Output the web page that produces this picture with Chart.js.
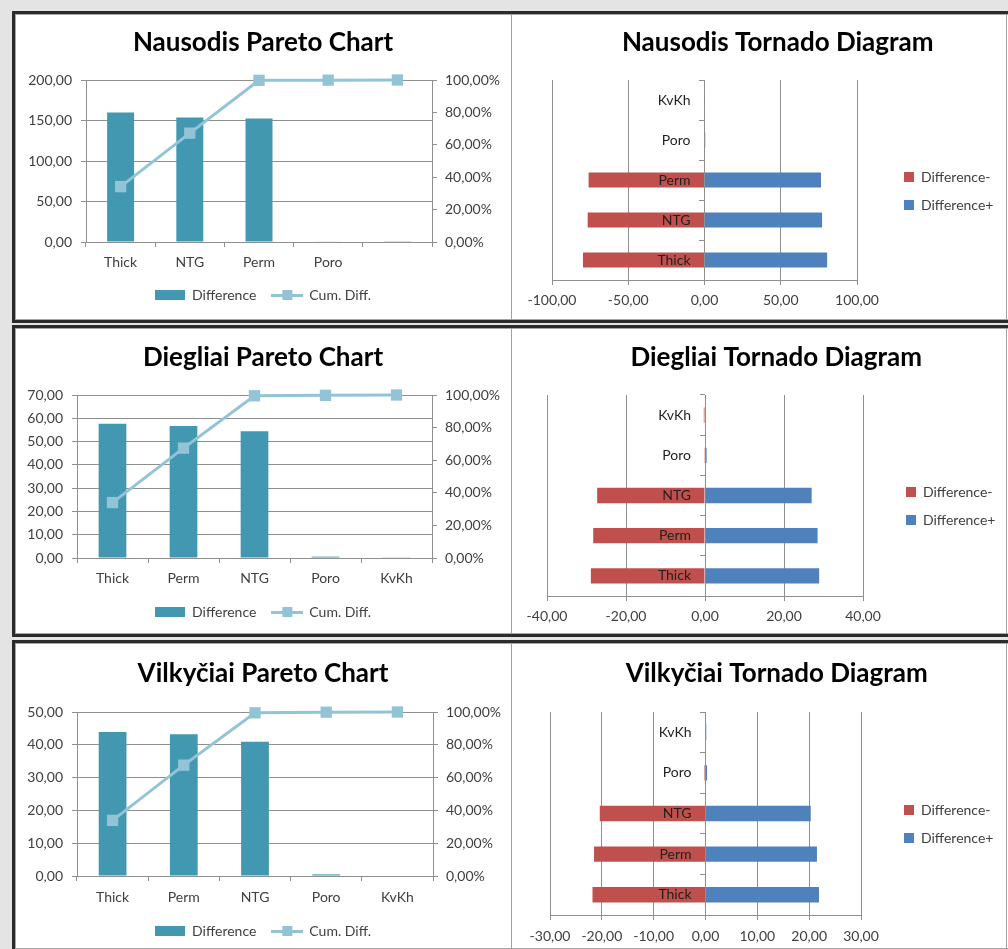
<!DOCTYPE html>
<html lang="lt">
<head>
<meta charset="utf-8">
<title>Pareto / Tornado</title>
<script src="https://cdn.jsdelivr.net/npm/chart.js@4.4.1/dist/chart.umd.min.js"></script>
<style>
  html, body { margin: 0; padding: 0; }
  body { width: 1008px; height: 949px; overflow: hidden; background: #e4e4e4; position: relative; }
  .row {
    position: absolute; left: 12px; width: 1000px; height: 306px;
    border: 3px solid #2b2b2b; background: #fff;
    box-shadow: inset 0 0 0 1px #a6a6a6; display: flex;
  }
  .cell { height: 306px; border-right: 1px solid #a0a0a0; }
  .cell canvas { display: block; }
</style>
</head>
<body>
<div class="row" style="top: 11px">
  <div class="cell"><canvas id="nausodisPareto" width="496" height="306"></canvas></div>
  <div class="cell"><canvas id="nausodisTornado" width="494" height="306"></canvas></div>
</div>
<div class="row" style="top: 325px">
  <div class="cell"><canvas id="diegliaiPareto" width="496" height="306"></canvas></div>
  <div class="cell"><canvas id="diegliaiTornado" width="494" height="306"></canvas></div>
</div>
<div class="row" style="top: 640px">
  <div class="cell"><canvas id="vilkyciaiPareto" width="496" height="306"></canvas></div>
  <div class="cell"><canvas id="vilkyciaiTornado" width="494" height="306"></canvas></div>
</div>
<script>
// Nausodis
const nausodisParetoCats = ['Thick', 'NTG', 'Perm', 'Poro', ''];
const nausodisDifference = [159.8, 153.8, 152.6, 0.5, 0.3];
const nausodisCumDiff = [34.2, 67.2, 99.8, 99.9, 100.0];
const nausodisDiffTicks = [0, 50, 100, 150, 200];
const nausodisTornadoCats = ['Thick', 'NTG', 'Perm', 'Poro', 'KvKh'];
const nausodisDiffMinus = [-79.7, -76.6, -76.0, 0, 0];
const nausodisDiffPlus = [80.4, 77.1, 76.4, 0.5, 0.3];
const nausodisTornadoTicks = [-100, -50, 0, 50, 100];

// Diegliai
const diegliaiParetoCats = ['Thick', 'Perm', 'NTG', 'Poro', 'KvKh'];
const diegliaiDifference = [57.6, 56.7, 54.4, 0.6, 0.3];
const diegliaiCumDiff = [34.0, 67.4, 99.5, 99.8, 100.0];
const diegliaiDiffTicks = [0, 10, 20, 30, 40, 50, 60, 70];
const diegliaiTornadoCats = ['Thick', 'Perm', 'NTG', 'Poro', 'KvKh'];
const diegliaiDiffMinus = [-28.9, -28.3, -27.3, -0.2, -0.3];
const diegliaiDiffPlus = [28.9, 28.5, 27.0, 0.4, 0];
const diegliaiTornadoTicks = [-40, -20, 0, 20, 40];

// Vilkyčiai
const vilkyciaiParetoCats = ['Thick', 'Perm', 'NTG', 'Poro', 'KvKh'];
const vilkyciaiDifference = [43.9, 43.2, 40.9, 0.5, 0.15];
const vilkyciaiCumDiff = [33.9, 67.6, 99.5, 99.9, 100.0];
const vilkyciaiDiffTicks = [0, 10, 20, 30, 40, 50];
const vilkyciaiTornadoCats = ['Thick', 'Perm', 'NTG', 'Poro', 'KvKh'];
const vilkyciaiDiffMinus = [-21.8, -21.5, -20.4, -0.2, 0];
const vilkyciaiDiffPlus = [21.9, 21.5, 20.3, 0.3, 0.15];
const vilkyciaiTornadoTicks = [-30, -20, -10, 0, 10, 20, 30];

const cumTicks = [0, 20, 40, 60, 80, 100];

// plot area placement inside each canvas (pixels)
const nausodisParetoBox = { left: 71, right: 417, top: 66, bottom: 228, titleY: 29, labelY: 248, legendY: 281 };
const diegliaiParetoBox = { left: 62, right: 417, top: 67, bottom: 230, titleY: 30, labelY: 250, legendY: 284 };
const vilkyciaiParetoBox = { left: 62, right: 418, top: 69, bottom: 233, titleY: 31, labelY: 254, legendY: 288 };
const nausodisTornadoBox = { left: 40, right: 345, top: 66, bottom: 266, titleY: 29, labelY: 286, legendX: 392, legendY: 163 };
const diegliaiTornadoBox = { left: 35, right: 351, top: 67, bottom: 268, titleY: 30, labelY: 288, legendX: 394, legendY: 164 };
const vilkyciaiTornadoBox = { left: 38, right: 349, top: 69, bottom: 272, titleY: 31, labelY: 293, legendX: 392, legendY: 167 };

const TEAL = '#4298b0';
const CUM = '#93c4d6';
const RED = '#c0504d';
const BLUE = '#4f81bd';
const GRID = '#8f8f8f';
const TEXT = '#404040';
const TITLE_SIZE = 26;

Chart.defaults.font.family = 'Lato';
Chart.defaults.font.size = 14;
Chart.defaults.color = TEXT;

const fmt = v => Number(v).toFixed(2).replace('.', ',');

function fixedTicks(values) {
    return scale => { scale.ticks = values.map(value => ({ value })); };
}

function swatch(w, h, paint) {
    const c = document.createElement('canvas');
    c.width = w;
    c.height = h;
    paint(c.getContext('2d'));
    return c;
}

// legend symbols: a bar block and a line with a square marker
const legendSwatches = [
    swatch(30, 10, ctx => { ctx.fillStyle = TEAL; ctx.fillRect(0, 0, 30, 10); }),
    swatch(32, 10, ctx => {
        ctx.fillStyle = CUM;
        ctx.fillRect(0, 4, 32, 3);
        ctx.fillRect(11, 0, 10, 10);
    })
];

function titleOptions(text, box) {
    const half = TITLE_SIZE * 1.2 / 2;
    return {
        display: true,
        text,
        color: '#000',
        font: { family: 'Lato', size: TITLE_SIZE, weight: 'bold', lineHeight: 1.2 },
        padding: { top: box.titleY - half, bottom: box.top - box.titleY - half }
    };
}

function paretoChart(id, title, cats, diff, cum, diffTicks, box) {
    const W = 496, H = 306;
    const legendPad = 16;
    const padBottom = H - box.legendY - 17;
    const legendTop = H - padBottom - (24 + legendPad);

    return new Chart(document.getElementById(id), {
        type: 'bar',
        data: {
            labels: cats,
            datasets: [{
                label: 'Difference',
                data: diff,
                yAxisID: 'y',
                order: 1,
                backgroundColor: TEAL,
                categoryPercentage: 0.39,
                barPercentage: 1
            }, {
                type: 'line',
                label: 'Cum. Diff.',
                data: cum,
                yAxisID: 'y1',
                order: 0,
                borderColor: CUM,
                borderWidth: 3,
                pointStyle: 'rect',
                pointRadius: 8,
                pointBackgroundColor: CUM,
                pointBorderColor: CUM,
                pointBorderWidth: 0,
                clip: false
            }]
        },
        options: {
            responsive: false,
            animation: false,
            devicePixelRatio: 1,
            layout: { padding: { left: 0, right: 0, top: 0, bottom: padBottom } },
            plugins: {
                title: titleOptions(title, box),
                tooltip: { enabled: false },
                legend: {
                    position: 'bottom',
                    labels: {
                        usePointStyle: true,
                        pointStyleWidth: 30,
                        padding: legendPad,
                        color: TEXT,
                        sort: (a, b) => a.datasetIndex - b.datasetIndex,
                        generateLabels: chart => Chart.defaults.plugins.legend.labels.generateLabels(chart)
                            .map(item => ({ ...item, pointStyle: legendSwatches[item.datasetIndex] }))
                    }
                }
            },
            scales: {
                x: {
                    offset: true,
                    grid: { offset: true, drawOnChartArea: false, tickLength: 5, color: GRID },
                    border: { color: GRID },
                    ticks: { padding: box.labelY - box.bottom - 13.4, autoSkip: false, maxRotation: 0 },
                    afterFit: s => { s.height = legendTop - box.bottom; }
                },
                y: {
                    position: 'left',
                    min: diffTicks[0],
                    max: diffTicks[diffTicks.length - 1],
                    afterBuildTicks: fixedTicks(diffTicks),
                    grid: { color: GRID, tickLength: 5 },
                    border: { color: GRID },
                    ticks: { callback: fmt, padding: 9 },
                    afterFit: s => { s.width = box.left; }
                },
                y1: {
                    position: 'right',
                    min: cumTicks[0],
                    max: cumTicks[cumTicks.length - 1],
                    afterBuildTicks: fixedTicks(cumTicks),
                    grid: { drawOnChartArea: false, tickLength: 5, color: GRID },
                    border: { color: GRID },
                    ticks: { callback: v => fmt(v) + '%', padding: 8 },
                    afterFit: s => { s.width = W - box.right; }
                }
            }
        }
    });
}

function tornadoChart(id, title, cats, minus, plus, ticks, box) {
    const W = 494, H = 306;
    const p = 14, item = 14, boxSize = 10;

    // legend width depends on the label text, measure it to keep the plot area fixed
    const meas = document.createElement('canvas').getContext('2d');
    meas.font = '14px Lato';
    const textW = Math.max(meas.measureText('Difference-').width, meas.measureText('Difference+').width);
    const legendW = p + boxSize + item / 2 + textW + 10;
    const padRight = Math.max(0, W - legendW - box.legendX + p);
    const gapW = box.legendX - p - box.right;
    // empty legend title pushes the two entries down to their row
    const titleH = 2 * (box.legendY - item / 2) - (box.top + p + box.bottom - 2 * (item + p));

    return new Chart(document.getElementById(id), {
        type: 'bar',
        data: {
            labels: cats,
            datasets: [{
                label: 'Difference-',
                data: minus,
                backgroundColor: RED,
                xAxisID: 'x',
                yAxisID: 'y',
                categoryPercentage: 0.38,
                barPercentage: 1
            }, {
                label: 'Difference+',
                data: plus,
                backgroundColor: BLUE,
                xAxisID: 'x',
                yAxisID: 'y',
                categoryPercentage: 0.38,
                barPercentage: 1
            }]
        },
        options: {
            indexAxis: 'y',
            responsive: false,
            animation: false,
            devicePixelRatio: 1,
            layout: { padding: { left: box.left, right: padRight, top: 0, bottom: 0 } },
            plugins: {
                title: titleOptions(title, box),
                tooltip: { enabled: false },
                legend: {
                    position: 'right',
                    fullSize: false,
                    align: 'center',
                    maxWidth: 200,
                    title: { display: true, text: ' ', padding: 0, font: { size: 1, lineHeight: titleH + 'px' } },
                    labels: { boxWidth: boxSize, boxHeight: boxSize, padding: p, color: TEXT }
                }
            },
            scales: {
                x: {
                    type: 'linear',
                    position: 'bottom',
                    stacked: true,
                    min: ticks[0],
                    max: ticks[ticks.length - 1],
                    afterBuildTicks: fixedTicks(ticks),
                    grid: { color: GRID, tickLength: 5 },
                    border: { color: GRID },
                    ticks: { callback: fmt, padding: box.labelY - box.bottom - 13.4 },
                    afterFit: s => { s.height = H - box.bottom; }
                },
                y: {
                    // symmetric x range, so the centre of the plot is the zero line
                    type: 'category',
                    position: 'center',
                    reverse: true,
                    stacked: true,
                    offset: true,
                    grid: { offset: true, drawOnChartArea: false, tickLength: 5, color: GRID },
                    border: { color: GRID },
                    ticks: { z: 1, padding: 9, color: '#1f1f1f', autoSkip: false }
                },
                gap: {
                    type: 'linear',
                    position: 'right',
                    grid: { display: false },
                    border: { display: false },
                    ticks: { display: false },
                    afterFit: s => { s.width = gapW; }
                }
            }
        }
    });
}

paretoChart('nausodisPareto', 'Nausodis Pareto Chart', nausodisParetoCats,
    nausodisDifference, nausodisCumDiff, nausodisDiffTicks, nausodisParetoBox);
tornadoChart('nausodisTornado', 'Nausodis Tornado Diagram', nausodisTornadoCats,
    nausodisDiffMinus, nausodisDiffPlus, nausodisTornadoTicks, nausodisTornadoBox);

paretoChart('diegliaiPareto', 'Diegliai Pareto Chart', diegliaiParetoCats,
    diegliaiDifference, diegliaiCumDiff, diegliaiDiffTicks, diegliaiParetoBox);
tornadoChart('diegliaiTornado', 'Diegliai Tornado Diagram', diegliaiTornadoCats,
    diegliaiDiffMinus, diegliaiDiffPlus, diegliaiTornadoTicks, diegliaiTornadoBox);

paretoChart('vilkyciaiPareto', 'Vilkyčiai Pareto Chart', vilkyciaiParetoCats,
    vilkyciaiDifference, vilkyciaiCumDiff, vilkyciaiDiffTicks, vilkyciaiParetoBox);
tornadoChart('vilkyciaiTornado', 'Vilkyčiai Tornado Diagram', vilkyciaiTornadoCats,
    vilkyciaiDiffMinus, vilkyciaiDiffPlus, vilkyciaiTornadoTicks, vilkyciaiTornadoBox);
</script>
</body>
</html>
